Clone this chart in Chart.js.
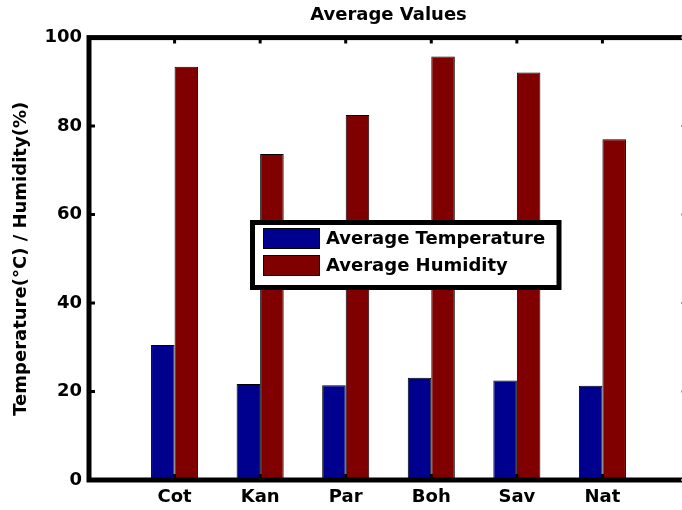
<!DOCTYPE html>
<html>
<head>
<meta charset="utf-8">
<script src="https://cdn.jsdelivr.net/npm/chart.js@4/dist/chart.umd.min.js"></script>
<style>
  html, body { margin: 0; padding: 0; overflow: hidden; background: #fff; }
  #wrap { width: 700px; height: 510px; }
</style>
</head>
<body>
<div id="wrap"><canvas id="avgChart"></canvas></div>
<script>
// Average values per site
const categories = ['Cot', 'Kan', 'Par', 'Boh', 'Sav', 'Nat'];
const avgTemperature = [30.5, 21.7, 21.4, 23.1, 22.5, 21.3];
const avgHumidity = [93.4, 73.7, 82.5, 95.7, 92.1, 77.0];
const yTicks = [0, 20, 40, 60, 80, 100];

const FONT = 'DejaVu Sans';

// one empty slot each side so the axis runs 0..7 like the original
const labels = ['', ...categories, ''];
const pad = arr => [null, ...arr, null];

// thick box round the axes + inward tick marks
const framePlugin = {
    id: 'frame',
    afterDatasetsDraw(chart) {
        const { ctx, chartArea: a, scales: { x, y } } = chart;
        ctx.save();
        ctx.strokeStyle = '#000';
        ctx.lineWidth = 5;
        ctx.lineCap = 'square';
        ctx.strokeRect(a.left, a.top, a.right - a.left, a.bottom - a.top);
        ctx.lineWidth = 3;
        ctx.lineCap = 'butt';
        ctx.beginPath();
        yTicks.forEach(v => {
            const py = y.getPixelForValue(v);
            ctx.moveTo(a.left, py); ctx.lineTo(a.left + 6, py);
        });
        categories.forEach((c, i) => {
            const px = x.getPixelForValue(i + 1);
            ctx.moveTo(px, a.top); ctx.lineTo(px, a.top + 6);
            ctx.moveTo(px, a.bottom); ctx.lineTo(px, a.bottom - 6);
        });
        ctx.stroke();
        // right side ticks, mostly cut off by the window edge
        ctx.strokeStyle = '#999';
        ctx.lineWidth = 2;
        ctx.beginPath();
        yTicks.forEach(v => {
            const py = y.getPixelForValue(v);
            ctx.moveTo(a.right, py); ctx.lineTo(a.right - 7, py);
        });
        ctx.stroke();
        ctx.restore();
    }
};

// legend box in the middle of the plot
const boxLegendPlugin = {
    id: 'boxLegend',
    afterDraw(chart) {
        const ctx = chart.ctx;
        ctx.save();
        ctx.fillStyle = '#fff';
        ctx.fillRect(252.5, 222.5, 306.5, 65);
        ctx.strokeStyle = '#000';
        ctx.lineWidth = 5;
        ctx.strokeRect(252.5, 222.5, 306.5, 65);
        ctx.font = `bold 18px "${FONT}"`;
        ctx.textBaseline = 'middle';
        chart.data.datasets.forEach((ds, i) => {
            const top = 228 + i * 27;
            ctx.fillStyle = ds.backgroundColor;
            ctx.fillRect(263, top, 57, 21);
            ctx.lineWidth = 1;
            ctx.strokeRect(263.5, top + 0.5, 56, 20);
            ctx.fillStyle = '#000';
            ctx.fillText(ds.label, 326, top + 11.5);
        });
        ctx.restore();
    }
};

new Chart(document.getElementById('avgChart'), {
    type: 'bar',
    data: {
        labels: labels,
        datasets: [
            { label: 'Average Temperature', data: pad(avgTemperature), backgroundColor: '#00008F', borderColor: '#000', borderWidth: 1 },
            { label: 'Average Humidity', data: pad(avgHumidity), backgroundColor: '#800000', borderColor: '#000', borderWidth: 1 }
        ]
    },
    options: {
        responsive: true,
        maintainAspectRatio: false,
        animation: false,
        layout: { padding: { top: 0, right: 12, bottom: 0, left: 0 } },
        categoryPercentage: 0.55,
        barPercentage: 1,
        plugins: {
            legend: { display: false },
            tooltip: { enabled: false },
            title: {
                display: true,
                fullSize: false,
                text: 'Average Values',
                color: '#000',
                font: { family: FONT, size: 18, weight: 'bold' },
                padding: { top: 5, bottom: 11 }
            }
        },
        scales: {
            x: {
                offset: false,
                grid: { display: false, drawTicks: false },
                border: { display: false },
                ticks: { color: '#000', autoSkip: false, maxRotation: 0, padding: 7, font: { family: FONT, size: 18, weight: 'bold' } },
                afterFit: s => { s.height = 30; }
            },
            y: {
                min: 0,
                max: 100,
                grid: { display: false, drawTicks: false },
                border: { display: false },
                ticks: { color: '#000', stepSize: 20, padding: 7, font: { family: FONT, size: 18, weight: 'bold' } },
                title: {
                    display: true,
                    text: 'Temperature(°C) / Humidity(%)',
                    color: '#000',
                    padding: { top: 11, bottom: 0 },
                    font: { family: FONT, size: 18, weight: 'bold' }
                },
                afterFit: s => { s.width = 89; }
            }
        }
    },
    plugins: [framePlugin, boxLegendPlugin]
});
</script>
</body>
</html>
